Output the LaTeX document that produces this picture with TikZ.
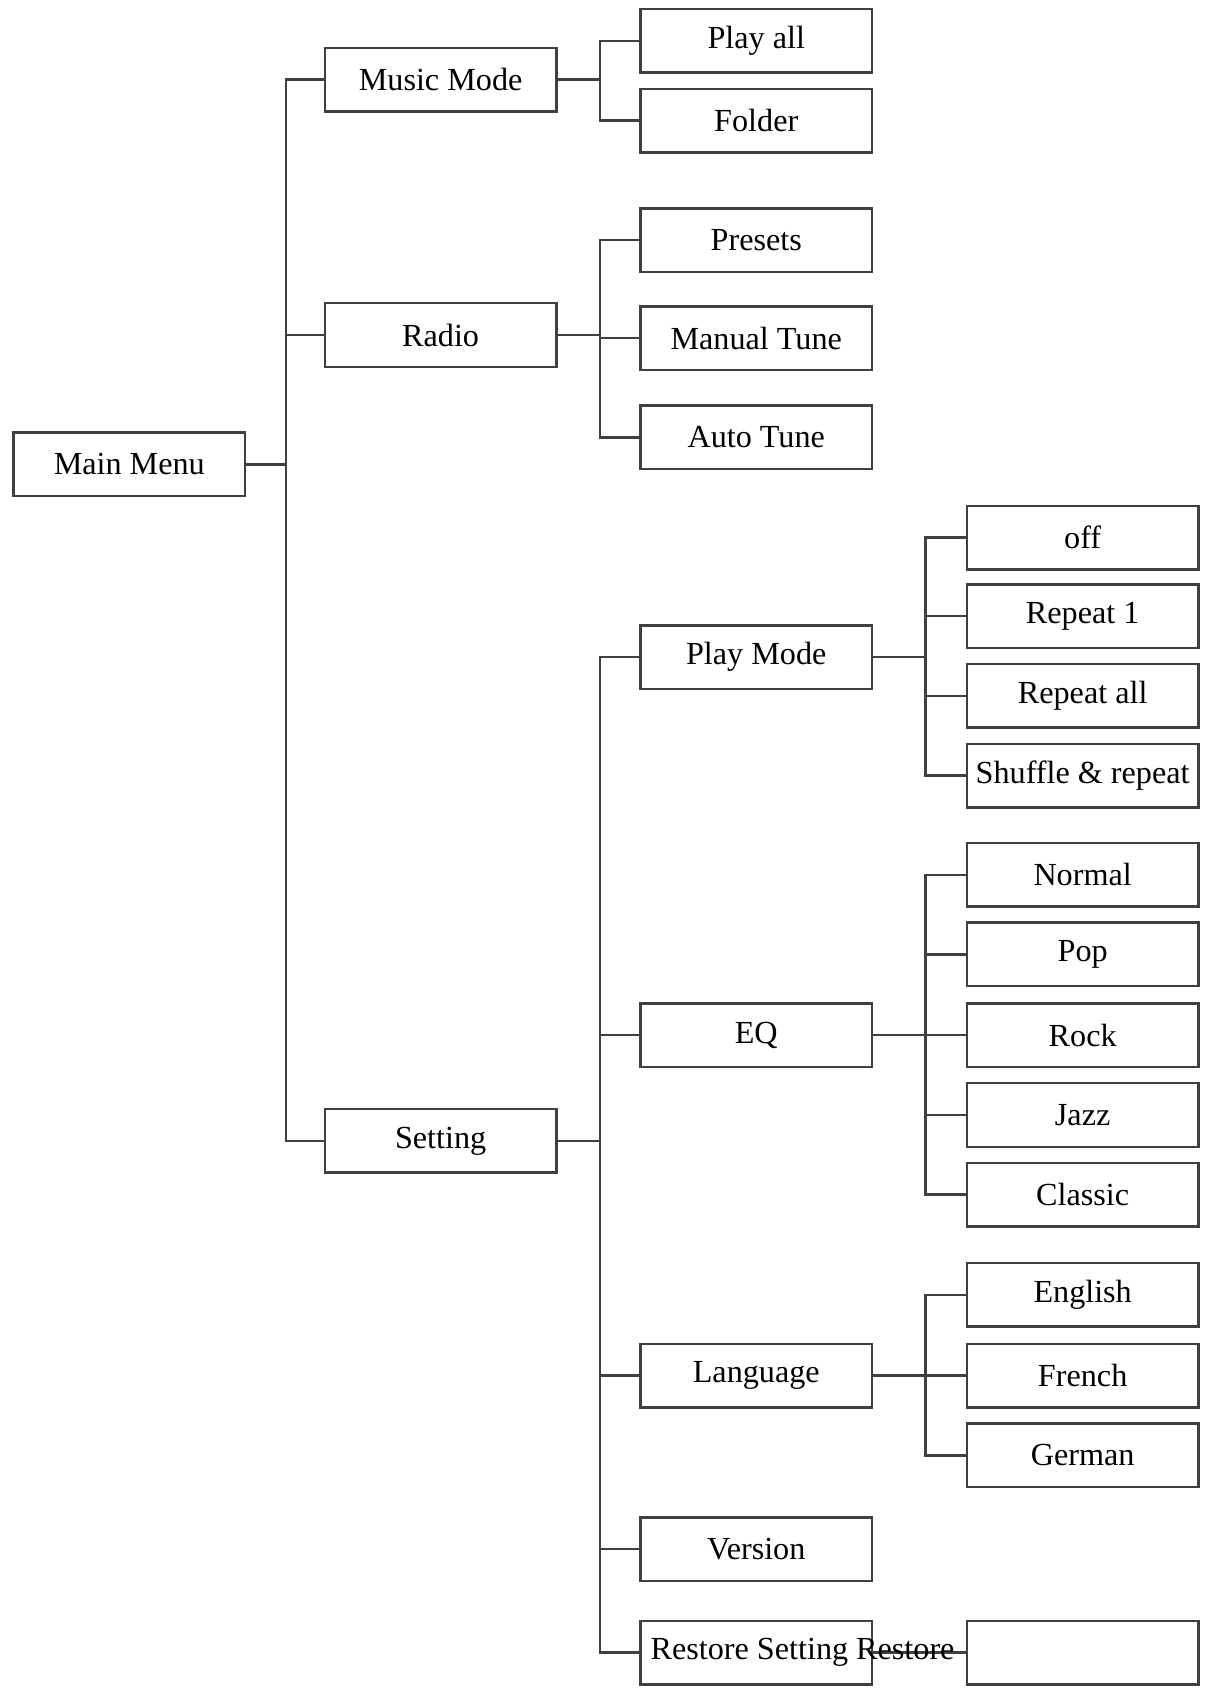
\documentclass[tikz,border=0pt]{standalone}
\usepackage{fontspec}
\setmainfont{Liberation Serif}
\usetikzlibrary{positioning}
\begin{document}
\begin{tikzpicture}[
    x=0.02cm, y=-0.02cm,
    % menu box style
    menubox/.style={
        rectangle,
        draw=black!75,
        line width=1.3pt,
        minimum width=4.3cm,
        minimum height=1.18cm,
        inner sep=0pt,
        font=\fontsize{17}{20}\selectfont
    },
    link/.style={line width=1.3pt, black!75}
]
    \useasboundingbox (0,0) rectangle (1130,1579);
    % Level 1 and 2
    \node[menubox] (main) at (120,431) {Main Menu};
    \node[menubox] (music) at (409,74) {Music Mode};
    \node[menubox] (radio) at (409,311) {Radio};
    \node[menubox] (setting) at (409,1059) {Setting};

    % Level 3
    \node[menubox] (playall) at (702,38) {Play all};
    \node[menubox] (folder) at (702,112) {Folder};
    \node[menubox] (presets) at (702,223) {Presets};
    \node[menubox] (manual) at (702,314) {Manual Tune};
    \node[menubox] (auto) at (702,406) {Auto Tune};
    \node[menubox] (playmode) at (702,610) {Play Mode};
    \node[menubox] (eq) at (702,961) {EQ};
    \node[menubox] (language) at (702,1277) {Language};
    \node[menubox] (version) at (702,1438) {Version};
    \node[menubox] (restore) at (702,1534) {};

    % Level 4
    \node[menubox] (off) at (1005,499) {off};
    \node[menubox] (rep1) at (1005,572) {Repeat 1};
    \node[menubox] (repall) at (1005,646) {Repeat all};
    \node[menubox] (shuffle) at (1005,720) {Shuffle \& repeat};
    \node[menubox] (normal) at (1005,812) {Normal};
    \node[menubox] (pop) at (1005,886) {Pop};
    \node[menubox] (rock) at (1005,961) {Rock};
    \node[menubox] (jazz) at (1005,1035) {Jazz};
    \node[menubox] (classic) at (1005,1109) {Classic};
    \node[menubox] (english) at (1005,1202) {English};
    \node[menubox] (french) at (1005,1277) {French};
    \node[menubox] (german) at (1005,1351) {German};
    \node[menubox] (blank) at (1005,1534) {};

    % Edges
    \draw[link] (main.east) -- ++(37,0) coordinate (busa);
    \foreach \n in {music, radio, setting}
        \draw[link] (\n.west) -| (busa);
    \foreach \p/\x in {music/557, radio/557, setting/557, playmode/859, eq/859, language/859}
        \draw[link] (\p.east) -- (\x,0 |- \p.east) coordinate (bus-\p);
    \foreach \n in {playall, folder}
        \draw[link] (\n.west) -| (bus-music);
    \foreach \n in {presets, manual, auto}
        \draw[link] (\n.west) -| (bus-radio);
    \foreach \n in {playmode, eq, language, version, restore}
        \draw[link] (\n.west) -| (bus-setting);
    \foreach \n in {off, rep1, repall, shuffle}
        \draw[link] (\n.west) -| (bus-playmode);
    \foreach \n in {normal, pop, rock, jazz, classic}
        \draw[link] (\n.west) -| (bus-eq);
    \foreach \n in {english, french, german}
        \draw[link] (\n.west) -| (bus-language);
    \draw[link] (restore.east) -- (blank.west);

    \node[font=\fontsize{17}{20}\selectfont, inner sep=0pt] (restoretxt) at (745,1534) {Restore Setting Restore};
\end{tikzpicture}
\end{document}
